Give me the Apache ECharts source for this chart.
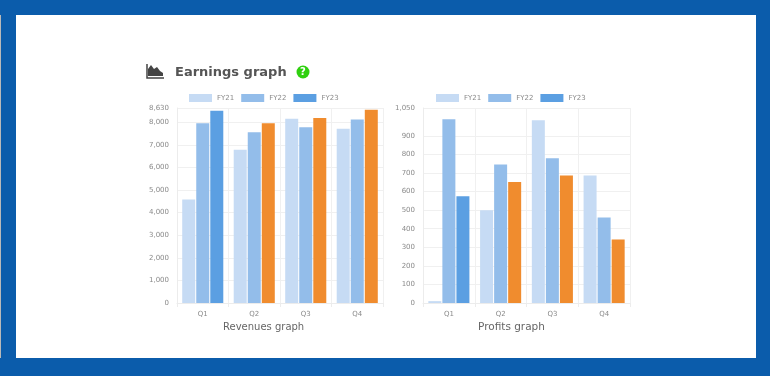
<!DOCTYPE html>
<html>
<head>
<meta charset="utf-8">
<style>
  html, body { margin: 0; padding: 0; background: #0b5cab; }
  #main { width: 770px; height: 376px; filter: blur(0.7px); }
</style>
<script src="https://cdn.jsdelivr.net/npm/echarts@6/dist/echarts.min.js"></script>
</head>
<body>
<div id="main"></div>
<script>
const quarters = ['Q1', 'Q2', 'Q3', 'Q4']
const years = ['FY21', 'FY22', 'FY23']

const revenuesFY21 = [4580, 6780, 8150, 7710]
const revenuesFY22 = [7960, 7560, 7780, 8120]
const revenuesFY23 = [8510, 7960, 8190, 8550]

const profitsFY21 = [10, 499, 984, 686]
const profitsFY22 = [990, 746, 779, 461]
const profitsFY23 = [575, 652, 686, 342]

const revenueTicks = [0, 1000, 2000, 3000, 4000, 5000, 6000, 7000, 8000, 8630]
const profitTicks = [0, 100, 200, 300, 400, 500, 600, 700, 800, 900, 1050]

const colors = ['#c6dbf4', '#93bdea', '#5b9fe2']
const orange = '#f08c2e'
const textColor = '#8a8a8a'
const fontFamily = 'DejaVu Sans, sans-serif'

const chart = echarts.init(document.getElementById('main'))

function makeAxes(gridIndex, ticks) {
  return {
    x: {
      type: 'category',
      gridIndex,
      data: quarters,
      axisLine: { lineStyle: { color: '#ececec' } },
      axisTick: { show: true, length: 4, lineStyle: { color: '#ececec' } },
      axisLabel: { color: textColor, fontSize: 7, fontFamily, margin: 8 },
      splitLine: { show: true, lineStyle: { color: '#f0f0f0' } }
    },
    y: {
      type: 'value',
      gridIndex,
      min: 0,
      max: ticks[ticks.length - 1],
      axisLine: { show: true, lineStyle: { color: '#ececec' } },
      axisTick: { show: false, customValues: ticks },
      axisLabel: {
        color: textColor,
        fontSize: 7,
        fontFamily,
        margin: 8,
        customValues: ticks,
        formatter: v => v.toLocaleString('en-US')
      },
      splitLine: { show: true, lineStyle: { color: '#f0f0f0' } }
    }
  }
}

function makeBars(name, values, index, axisIndex) {
  return {
    name,
    type: 'bar',
    xAxisIndex: axisIndex,
    yAxisIndex: axisIndex,
    data: values,
    barWidth: 13,
    barGap: '8%',
    animation: false,
    itemStyle: {
      // FY23 goes orange after Q1
      color: p => (index === 2 && p.dataIndex > 0 ? orange : colors[index])
    },
    emphasis: { disabled: true }
  }
}

const left = makeAxes(0, revenueTicks)
const right = makeAxes(1, profitTicks)

const legendBase = {
  data: years,
  top: 89,
  icon: 'rect',
  itemWidth: 23,
  itemHeight: 8,
  itemGap: 7,
  textStyle: { color: textColor, fontSize: 7, fontFamily }
}

chart.setOption({
  color: colors,
  backgroundColor: 'transparent',
  animation: false,
  title: [
    {
      text: 'Earnings graph',
      left: 170,
      top: 61,
      textStyle: { color: '#555555', fontSize: 13, fontWeight: 'bold', fontFamily }
    },
    {
      text: 'Revenues graph',
      left: 218,
      top: 317,
      textStyle: { color: '#666666', fontSize: 10, fontWeight: 'normal', fontFamily }
    },
    {
      text: 'Profits graph',
      left: 473,
      top: 317,
      textStyle: { color: '#666666', fontSize: 10.5, fontWeight: 'normal', fontFamily }
    }
  ],
  legend: [
    { ...legendBase, left: 184 },
    { ...legendBase, left: 431 }
  ],
  grid: [
    { left: 177, right: 387, top: 108, height: 195 },
    { left: 423, right: 140, top: 108, height: 195 }
  ],
  xAxis: [left.x, right.x],
  yAxis: [left.y, right.y],
  series: [
    makeBars('FY21', revenuesFY21, 0, 0),
    makeBars('FY22', revenuesFY22, 1, 0),
    makeBars('FY23', revenuesFY23, 2, 0),
    makeBars('FY21', profitsFY21, 0, 1),
    makeBars('FY22', profitsFY22, 1, 1),
    makeBars('FY23', profitsFY23, 2, 1)
  ],
  graphic: [
    // white panel inside the blue frame, drawn behind everything
    { type: 'rect', z: -10, shape: { x: 16, y: 15, width: 740, height: 343 }, style: { fill: '#ffffff' } },
    // thin grey strip on the left edge of the frame
    { type: 'rect', z: -10, shape: { x: 0, y: 15, width: 1, height: 343 }, style: { fill: '#b9b9b9' } },
    // area chart icon next to the title
    {
      type: 'polygon',
      shape: { points: [[148, 76], [148, 69], [151, 65], [154, 69], [157, 67], [160, 71], [163, 73], [163, 76]] },
      style: { fill: '#444444' }
    },
    { type: 'polyline', shape: { points: [[147, 64], [147, 78], [164, 78]] }, style: { stroke: '#444444', fill: null, lineWidth: 1.5 } },
    // green help badge
    { type: 'circle', shape: { cx: 303, cy: 72, r: 6.5 }, style: { fill: '#2fd00f' } },
    {
      type: 'text',
      x: 303,
      y: 72,
      style: { text: '?', fill: '#ffffff', fontSize: 10, fontWeight: 'bold', fontFamily, align: 'center', verticalAlign: 'middle' }
    }
  ]
})
</script>
</body>
</html>
